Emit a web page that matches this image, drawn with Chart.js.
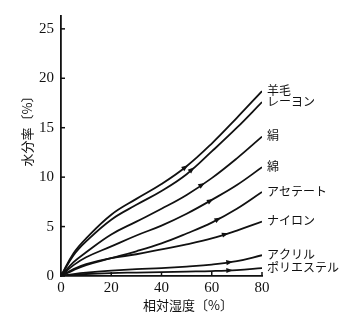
<!DOCTYPE html>
<html>
<head>
<meta charset="utf-8">
<script src="https://cdn.jsdelivr.net/npm/chart.js@4.4.1/dist/chart.umd.min.js"></script>
<style>
  html, body { margin: 0; padding: 0; background: #fff; }
  canvas { display: block; }
</style>
</head>
<body>
<canvas id="chart" width="360" height="318"></canvas>
<script>
// 相対湿度 (%)
const humidity = [0, 5, 10, 20, 30, 40, 50, 60, 70, 80];

// 水分率 (%) per fibre
const wool = [0, 2.3, 3.8, 6.2, 7.8, 9.3, 11.1, 13.4, 16.0, 18.7];
const rayon = [0, 2.1, 3.5, 5.7, 7.2, 8.6, 10.3, 12.6, 15.0, 17.6];
const silk = [0, 1.4, 2.4, 4.2, 5.5, 6.8, 8.2, 9.9, 11.9, 14.1];
const cotton = [0, 1.1, 1.9, 3.0, 4.1, 5.1, 6.3, 7.7, 9.2, 11.0];
const acetate = [0, 0.6, 1.1, 1.8, 2.5, 3.3, 4.3, 5.4, 6.8, 8.5];
const nylon = [0, 0.7, 1.2, 1.8, 2.2, 2.7, 3.2, 3.8, 4.6, 5.5];
const acrylic = [0, 0.2, 0.35, 0.55, 0.7, 0.8, 0.95, 1.15, 1.5, 2.1];
const polyester = [0, 0.1, 0.2, 0.3, 0.35, 0.4, 0.45, 0.5, 0.6, 0.8];

const fibreNames = ["羊毛", "レーヨン", "絹", "綿", "アセテート", "ナイロン", "アクリル", "ポリエステル"];
const fibreValues = [wool, rayon, silk, cotton, acetate, nylon, acrylic, polyester];
// humidity where the small arrow head sits on each curve
const arrowAt = [49.4, 52, 56, 59.4, 62.4, 65.3, 67, 67];

const xTicks = [0, 20, 40, 60, 80];
const yTicks = [0, 5, 10, 15, 20, 25];

const serif = "'Liberation Serif', 'DejaVu Serif', serif";
const jp = "'Noto Sans CJK JP', sans-serif";

function valueAt(values, x) {
    for (let i = 1; i < humidity.length; i++) {
        if (x <= humidity[i]) {
            const t = (x - humidity[i - 1]) / (humidity[i] - humidity[i - 1]);
            return values[i - 1] + t * (values[i] - values[i - 1]);
        }
    }
    return values[values.length - 1];
}

// inward tick marks, arrow heads, curve labels and axis titles
const decorations = {
    id: "decorations",
    afterDatasetsDraw(chart) {
        const { ctx, scales: { x, y } } = chart;
        ctx.save();
        ctx.strokeStyle = "#111";
        ctx.fillStyle = "#111";
        ctx.lineWidth = 1.5;

        xTicks.forEach((v) => {
            const px = x.getPixelForValue(v);
            ctx.beginPath();
            ctx.moveTo(px, y.bottom);
            ctx.lineTo(px, y.bottom - 4);
            ctx.stroke();
        });
        yTicks.forEach((v) => {
            const py = y.getPixelForValue(v);
            ctx.beginPath();
            ctx.moveTo(x.left, py);
            ctx.lineTo(x.left + 4, py);
            ctx.stroke();
        });

        // arrow heads
        fibreValues.forEach((values, i) => {
            const hx = arrowAt[i];
            const px = x.getPixelForValue(hx);
            const py = y.getPixelForValue(valueAt(values, hx));
            const dx = x.getPixelForValue(hx + 1) - x.getPixelForValue(hx - 1);
            const dy = y.getPixelForValue(valueAt(values, hx + 1)) - y.getPixelForValue(valueAt(values, hx - 1));
            const ang = Math.atan2(dy, dx);
            ctx.save();
            ctx.translate(px, py);
            ctx.rotate(ang);
            ctx.beginPath();
            ctx.moveTo(3.5, 0);
            ctx.lineTo(-3, -2.6);
            ctx.lineTo(-3, 2.6);
            ctx.closePath();
            ctx.fill();
            ctx.restore();
        });

        // curve labels
        ctx.font = "12px " + jp;
        ctx.textAlign = "left";
        ctx.textBaseline = "middle";
        fibreValues.forEach((values, i) => {
            const py = y.getPixelForValue(values[values.length - 1]);
            ctx.fillText(fibreNames[i], x.right + 5, py - 1);
        });

        // axis titles
        ctx.font = "13px " + jp;
        ctx.textAlign = "center";
        ctx.fillText("相対湿度〔%〕", 188, 305);
        ctx.save();
        ctx.translate(27, 128);
        ctx.rotate(-Math.PI / 2);
        ctx.fillText("水分率〔%〕", 0, 0);
        ctx.restore();

        ctx.restore();
    },
};

const datasets = fibreValues.map((values, i) => ({
    label: fibreNames[i],
    data: humidity.map((h, j) => ({ x: h, y: values[j] })),
    borderColor: "#111",
    borderWidth: 1.8,
    pointRadius: 0,
    fill: false,
    tension: 0.4,
}));

new Chart(document.getElementById("chart"), {
    type: "line",
    data: { datasets: datasets },
    options: {
        responsive: false,
        animation: false,
        layout: { padding: { left: 0, right: 98, top: 10, bottom: 0 } },
        plugins: {
            legend: { display: false },
            tooltip: { enabled: false },
        },
        scales: {
            x: {
                type: "linear",
                min: 0,
                max: 80,
                afterBuildTicks: (scale) => {
                    scale.ticks = xTicks.map((v) => ({ value: v }));
                },
                afterFit: (scale) => {
                    scale.height = 42;
                },
                border: { display: true, color: "#111", width: 1.8 },
                grid: { display: false, drawTicks: false },
                ticks: { color: "#111", font: { family: serif, size: 15 }, padding: 3, maxRotation: 0 },
            },
            y: {
                type: "linear",
                min: 0,
                max: 26.3,
                afterBuildTicks: (scale) => {
                    scale.ticks = yTicks.map((v) => ({ value: v }));
                },
                afterFit: (scale) => {
                    scale.width = 61;
                },
                border: { display: true, color: "#111", width: 1.8 },
                grid: { display: false, drawTicks: false },
                ticks: { color: "#111", font: { family: serif, size: 15 }, padding: 7 },
            },
        },
    },
    plugins: [decorations],
});
</script>
</body>
</html>
